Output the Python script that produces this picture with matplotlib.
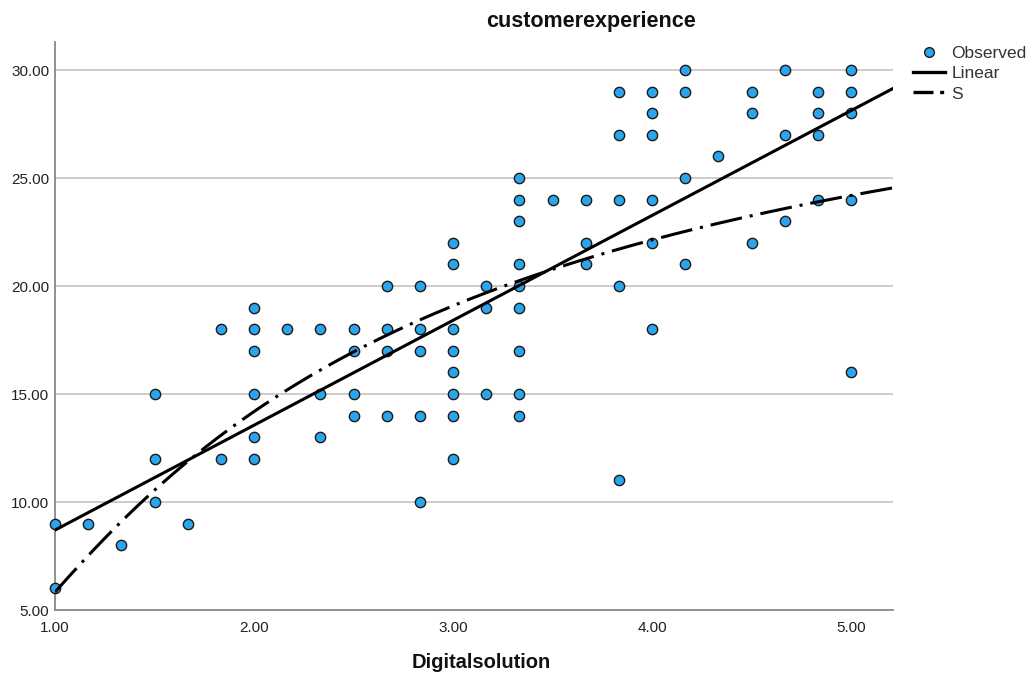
import numpy as np
import matplotlib
matplotlib.use("Agg")
import matplotlib.pyplot as plt
from matplotlib.lines import Line2D

plt.rcParams['font.family'] = ['Liberation Sans', 'DejaVu Sans']

# Observed data: (Digitalsolution, customerexperience)
x_obs = [1.0, 1.0,
         1.1667, 1.3333,
         1.5, 1.5, 1.5,
         1.6667,
         1.8333, 1.8333,
         2.0, 2.0, 2.0, 2.0, 2.0, 2.0,
         2.1667,
         2.3333, 2.3333, 2.3333,
         2.5, 2.5, 2.5, 2.5,
         2.6667, 2.6667, 2.6667, 2.6667,
         2.8333, 2.8333, 2.8333, 2.8333, 2.8333,
         3.0, 3.0, 3.0, 3.0, 3.0, 3.0, 3.0, 3.0,
         3.1667, 3.1667, 3.1667,
         3.3333, 3.3333, 3.3333, 3.3333, 3.3333, 3.3333, 3.3333, 3.3333, 3.3333,
         3.5,
         3.6667, 3.6667, 3.6667,
         3.8333, 3.8333, 3.8333, 3.8333, 3.8333,
         4.0, 4.0, 4.0, 4.0, 4.0, 4.0,
         4.1667, 4.1667, 4.1667, 4.1667,
         4.3333,
         4.5, 4.5, 4.5,
         4.6667, 4.6667, 4.6667,
         4.8333, 4.8333, 4.8333, 4.8333,
         5.0, 5.0, 5.0, 5.0, 5.0]
y_obs = [9, 6,
         9, 8,
         15, 12, 10,
         9,
         18, 12,
         19, 18, 17, 15, 13, 12,
         18,
         18, 15, 13,
         18, 17, 15, 14,
         20, 18, 17, 14,
         20, 18, 17, 14, 10,
         22, 21, 18, 17, 16, 15, 14, 12,
         20, 19, 15,
         25, 24, 23, 21, 20, 19, 17, 15, 14,
         24,
         24, 22, 21,
         29, 27, 24, 20, 11,
         29, 28, 27, 24, 22, 18,
         30, 29, 25, 21,
         26,
         29, 28, 22,
         30, 27, 23,
         29, 28, 27, 24,
         30, 29, 28, 24, 16]

# Fitted model coefficients
linear_b0, linear_b1 = 3.843, 4.857      # y = b0 + b1*x
s_b0, s_b1 = 3.542, -1.779               # y = exp(b0 + b1/x)

x_ticks = [1.0, 2.0, 3.0, 4.0, 5.0]
y_ticks = [5, 10, 15, 20, 25, 30]

x_obs = np.array(x_obs)
y_obs = np.array(y_obs, dtype=float)

xmin, xmax = 1.0, 5.21
ymin, ymax = 5.0, 31.3
xs = np.linspace(xmin, xmax, 300)

fig = plt.figure(figsize=(10.29, 6.79), dpi=100)
ax = fig.add_axes([55/1029, 1 - 610/679, (893-55)/1029, (610-42)/679])

for yt in y_ticks[1:]:
    ax.axhline(yt, color='#c8c8c8', lw=1.3, zorder=0)

ax.scatter(x_obs, y_obs, s=55, facecolor='#2ba6ee', edgecolor='#1a1a1a',
           linewidth=1.0, zorder=3, clip_on=False)
ax.plot(xs, linear_b0 + linear_b1 * xs, color='black', lw=2.2, zorder=4)
ax.plot(xs, np.exp(s_b0 + s_b1 / xs), color='black', lw=2.2,
        dashes=(10.5, 2.6, 1.0, 2.6), zorder=4)

ax.set_xlim(xmin, xmax)
ax.set_ylim(ymin, ymax)
ax.set_xticks(x_ticks)
ax.set_xticklabels([f"{v:.2f}" for v in x_ticks])
ax.set_yticks(y_ticks)
ax.set_yticklabels([f"{v:.2f}" for v in y_ticks])
ax.tick_params(length=0, labelsize=11, colors='#222222', pad=4)
ax.tick_params(axis='x', pad=8)
for s in ['top', 'right']:
    ax.spines[s].set_visible(False)
for s in ['left', 'bottom']:
    ax.spines[s].set_color('#888888')
    ax.spines[s].set_linewidth(1.3)

fig.text(591/1029, 1 - 22/679, 'customerexperience', ha='center', va='center',
         fontsize=15.5, fontweight='bold', color='#111111')
fig.text(481/1029, 1 - 662/679, 'Digitalsolution', ha='center', va='center',
         fontsize=14.5, fontweight='bold', color='#111111')

handles = [
    Line2D([], [], ls='none', marker='o', markersize=7, markerfacecolor='#2ba6ee',
           markeredgecolor='#1a1a1a', markeredgewidth=1.0),
    Line2D([], [], color='black', lw=2.4),
    Line2D([], [], color='black', lw=2.4, dashes=(6, 2, 1.2, 2)),
]
leg = fig.legend(handles, ['Observed', 'Linear', 'S'], loc='upper left',
                 bbox_to_anchor=(913/1029, 1 - 46/679), frameon=False,
                 fontsize=12.5, handlelength=1.85, handletextpad=0.35,
                 labelspacing=0.29, borderpad=0, borderaxespad=0)
for t in leg.get_texts():
    t.set_color('#333333')

fig.savefig('out.png', dpi=100)
